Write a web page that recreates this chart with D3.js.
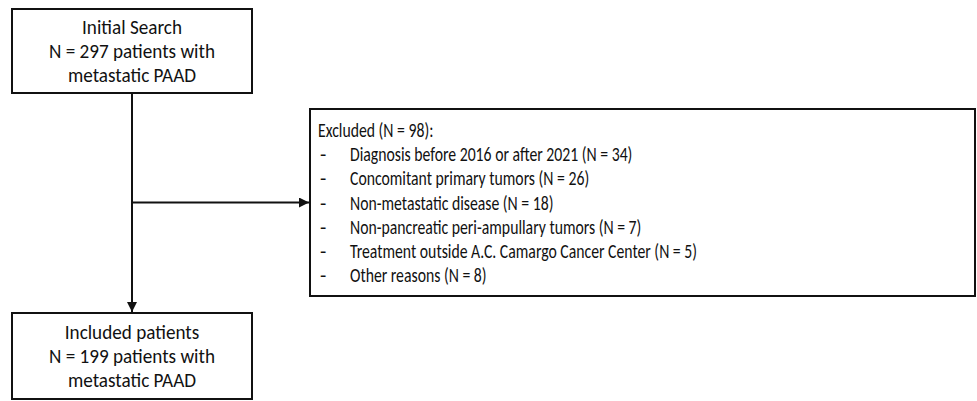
<!DOCTYPE html>
<html>
<head>
<meta charset="utf-8">
<script src="https://cdn.jsdelivr.net/npm/d3@7"></script>
<style>
  html, body { margin: 0; padding: 0; background: #fff; }
  svg { display: block; }
  text { font-family: Carlito, Lato, "Open Sans", sans-serif; fill: #111; }
</style>
</head>
<body>
<svg id="chart" width="977" height="401"></svg>
<script>
// ---- data ----
const initialLines = ["Initial Search", "N = 297 patients with", "metastatic PAAD"];
const includedLines = ["Included patients", "N = 199 patients with", "metastatic PAAD"];
const excludedTitle = "Excluded (N = 98):";
const reasons = [
  "Diagnosis before 2016 or after 2021",
  "Concomitant primary tumors",
  "Non-metastatic disease",
  "Non-pancreatic peri-ampullary tumors",
  "Treatment outside A.C. Camargo Cancer Center",
  "Other reasons"
];
const reasonCounts = [34, 26, 18, 7, 5, 8];

// ---- layout ----
const svg = d3.select("#chart");
const stroke = "#111";
const sw = 2;
const fontSize = 20.5;

const topBox = {x: 12, y: 9, w: 240, h: 84};
const botBox = {x: 12, y: 313, w: 240, h: 86};
const exBox = {x: 310, y: 109, w: 665, h: 187};
const lineGap = 24.2;

svg.append("defs").append("marker")
  .attr("id", "arrow")
  .attr("viewBox", "0 0 10 10")
  .attr("refX", 10).attr("refY", 5)
  .attr("markerWidth", 5.5).attr("markerHeight", 5)
  .attr("markerUnits", "strokeWidth")
  .attr("orient", "auto")
  .append("path").attr("d", "M0,0L10,5L0,10z").attr("fill", stroke);

function box(b) {
  svg.append("rect")
    .attr("x", b.x).attr("y", b.y).attr("width", b.w).attr("height", b.h)
    .attr("fill", "#fff").attr("stroke", stroke).attr("stroke-width", sw);
}

function natural(str) {
  const t = svg.append("text").attr("font-size", fontSize).text(str);
  const w = t.node().getComputedTextLength();
  t.remove();
  return w;
}
// horizontal compression so the wider fallback font matches the original narrow face
const kBox = 166 / natural("N = 297 patients with");
const kEx = 347 / natural("Treatment outside A.C. Camargo Cancer Center (N = 5)");

function squeeze(sel, k) {
  sel.each(function() {
    const w = this.getComputedTextLength();
    d3.select(this).attr("textLength", w * k).attr("lengthAdjust", "spacingAndGlyphs");
  });
}

function centeredLines(b, lines) {
  const cx = b.x + b.w / 2, cy = b.y + b.h / 2;
  const y = d3.scaleLinear().domain([0, lines.length - 1])
    .range([cy - lineGap * (lines.length - 1) / 2, cy + lineGap * (lines.length - 1) / 2]);
  const t = svg.append("g").selectAll("text").data(lines).join("text")
    .attr("x", cx).attr("y", (d, i) => y(i))
    .attr("text-anchor", "middle").attr("dominant-baseline", "central")
    .attr("font-size", fontSize)
    .text(d => d);
  squeeze(t, kBox);
}

// connectors
const cx = topBox.x + topBox.w / 2;
svg.append("line")
  .attr("x1", cx).attr("y1", topBox.y + topBox.h)
  .attr("x2", cx).attr("y2", botBox.y - 1)
  .attr("stroke", stroke).attr("stroke-width", sw)
  .attr("marker-end", "url(#arrow)");

box(topBox);
box(botBox);
box(exBox);
centeredLines(topBox, initialLines);
centeredLines(botBox, includedLines);

// excluded box text
const exLines = [excludedTitle].concat(reasons.map((r, i) => `${r} (N = ${reasonCounts[i]})`));
const ey = d3.scaleLinear().domain([0, exLines.length - 1])
  .range([exBox.y + exBox.h / 2 - lineGap * 3, exBox.y + exBox.h / 2 + lineGap * 3]);
const g = svg.append("g");
const title = g.append("text")
  .attr("x", exBox.x + 8).attr("y", ey(0))
  .attr("dominant-baseline", "central").attr("font-size", fontSize)
  .text(excludedTitle);
squeeze(title, kEx);
const items = g.selectAll("g.item").data(exLines.slice(1)).join("g").attr("class", "item");
items.append("text")
  .attr("x", exBox.x + 10).attr("y", (d, i) => ey(i + 1))
  .attr("dominant-baseline", "central").attr("font-size", fontSize)
  .text("-");
const itemText = items.append("text")
  .attr("x", exBox.x + 40).attr("y", (d, i) => ey(i + 1))
  .attr("dominant-baseline", "central").attr("font-size", fontSize)
  .text(d => d);
squeeze(itemText, kEx);

// branch arrow to excluded box, aligned to 4th line
const by = ey(3);
svg.append("line")
  .attr("x1", cx).attr("y1", by)
  .attr("x2", exBox.x - 1).attr("y2", by)
  .attr("stroke", stroke).attr("stroke-width", sw)
  .attr("marker-end", "url(#arrow)");
</script>
</body>
</html>
